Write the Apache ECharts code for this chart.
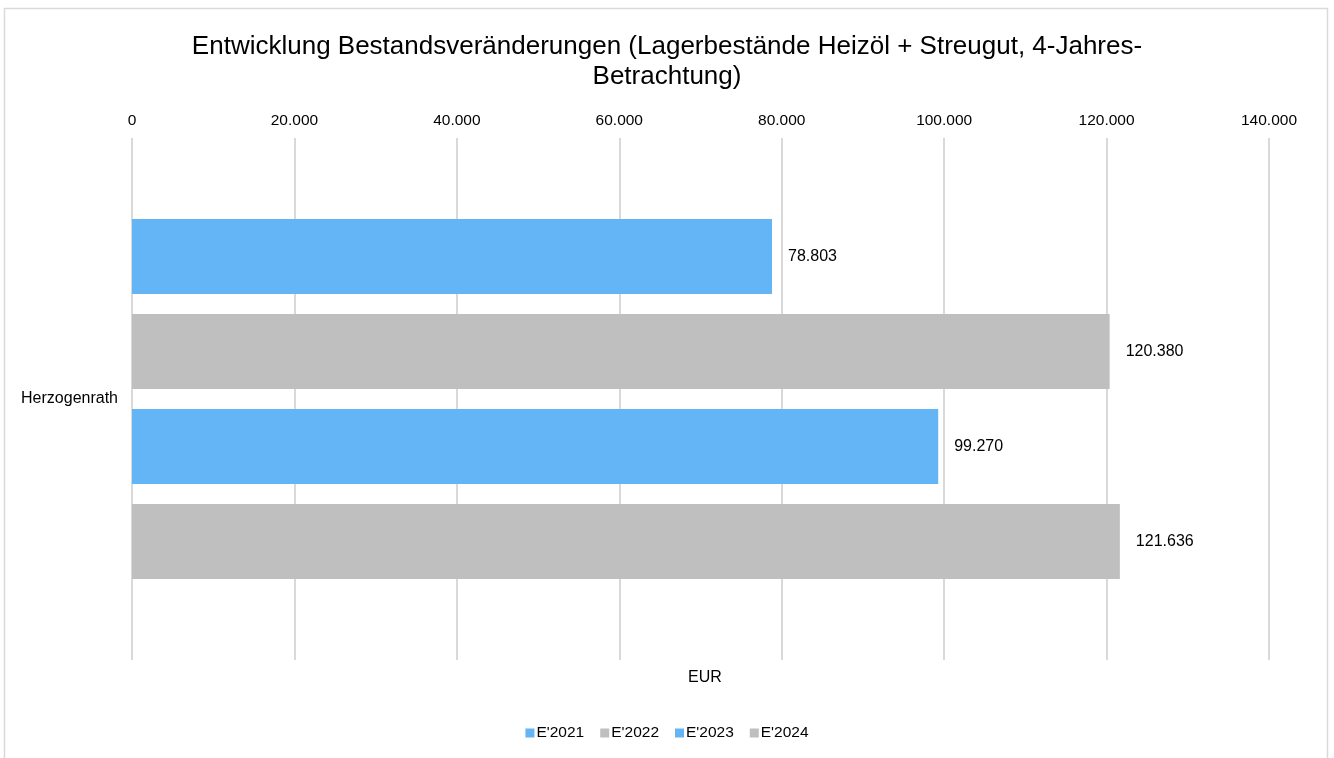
<!DOCTYPE html>
<html>
<head>
<meta charset="utf-8">
<script src="https://cdn.jsdelivr.net/npm/echarts@6/dist/echarts.min.js"></script>
<style>
  html, body { margin: 0; padding: 0; background: #fff; }
  #chart { width: 1334px; height: 758px; }
</style>
</head>
<body>
<div id="chart"></div>
<script>
const categories = ['Herzogenrath']
const seriesNames = ["E'2021", "E'2022", "E'2023", "E'2024"]
const e2021 = [78803]
const e2022 = [120380]
const e2023 = [99270]
const e2024 = [121636]
const seriesColors = ['#63b5f5', '#bfbfbf', '#63b5f5', '#bfbfbf']

function fmt(v) {
  return String(Math.round(v)).replace(/\B(?=(\d{3})+(?!\d))/g, '.')
}

const font = 'Liberation Sans, Arial, sans-serif'

function makeSeries(name, data, color) {
  return {
    name: name,
    type: 'bar',
    data: data,
    barWidth: 75,
    barGap: '26.7%',
    itemStyle: { color: color },
    label: {
      show: true,
      position: 'right',
      distance: 16,
      color: '#000',
      fontSize: 16,
      fontFamily: font,
      formatter: function (p) { return fmt(p.value) },
    },
  }
}

const option = {
  animation: false,
  backgroundColor: '#fff',
  textStyle: { fontFamily: font },
  title: [
    {
      text: 'Entwicklung Bestandsveränderungen (Lagerbestände Heizöl + Streugut, 4-Jahres-\nBetrachtung)',
      left: 'center',
      top: 27,
      textStyle: { fontSize: 26, fontWeight: 'normal', color: '#000', fontFamily: font, lineHeight: 30 },
    },
    {
      text: 'EUR',
      left: 683,
      top: 665,
      textStyle: { fontSize: 16, fontWeight: 'normal', color: '#000', fontFamily: font },
    },
  ],
  graphic: [
    {
      type: 'rect',
      shape: { x: 4.5, y: 8.5, width: 1323, height: 780 },
      style: { fill: 'none', stroke: '#d9d9d9', lineWidth: 1.5 },
      silent: true,
    },
  ],
  legend: {
    data: seriesNames,
    bottom: 12,
    left: 'center',
    itemWidth: 9,
    itemHeight: 9,
    itemGap: 16,
    icon: 'rect',
    textStyle: { fontSize: 15.5, color: '#000', fontFamily: font, padding: [0, 0, 0, -3] },
  },
  grid: {
    left: 132,
    right: 65,
    top: 138,
    bottom: 98,
    containLabel: false,
  },
  xAxis: {
    type: 'value',
    position: 'top',
    min: 0,
    max: 140000,
    interval: 20000,
    axisLine: { show: false },
    axisTick: { show: false },
    splitLine: { show: true, lineStyle: { color: '#d9d9d9', width: 2 } },
    axisLabel: {
      fontSize: 15.5,
      color: '#000',
      fontFamily: font,
      margin: 9,
      formatter: function (v) { return fmt(v) },
    },
  },
  yAxis: {
    type: 'category',
    data: categories,
    inverse: true,
    axisLine: { show: false },
    axisTick: { show: false },
    axisLabel: { fontSize: 16, color: '#000', fontFamily: font, margin: 14 },
  },
  series: [
    makeSeries(seriesNames[0], e2021, seriesColors[0]),
    makeSeries(seriesNames[1], e2022, seriesColors[1]),
    makeSeries(seriesNames[2], e2023, seriesColors[2]),
    makeSeries(seriesNames[3], e2024, seriesColors[3]),
  ],
}

var myChart = echarts.init(document.getElementById('chart'))
myChart.setOption(option)
</script>
</body>
</html>
